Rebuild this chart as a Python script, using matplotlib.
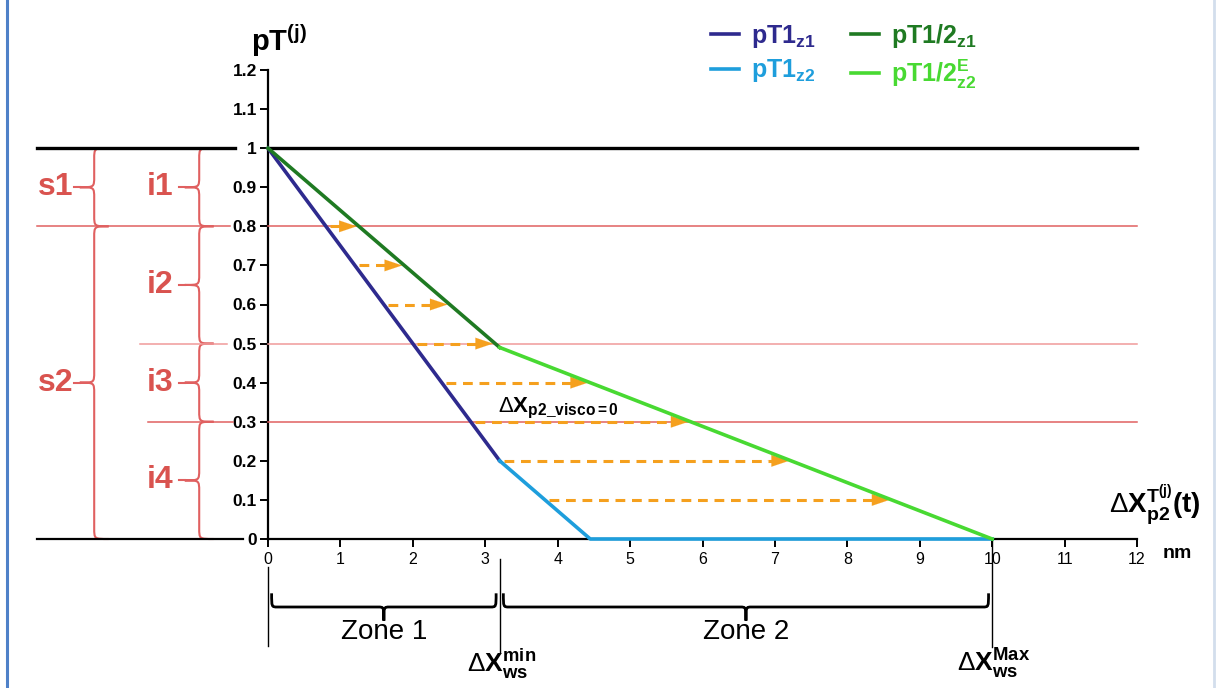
import numpy as np
import matplotlib
matplotlib.use("Agg")
import matplotlib.pyplot as plt
from matplotlib.path import Path
from matplotlib.patches import PathPatch
from matplotlib.lines import Line2D

plt.rcParams['font.family'] = ['Liberation Sans', 'DejaVu Sans']
plt.rcParams['mathtext.fontset'] = 'custom'
plt.rcParams['mathtext.rm'] = 'Liberation Sans'
plt.rcParams['mathtext.it'] = 'Liberation Sans:italic'
plt.rcParams['mathtext.bf'] = 'Liberation Sans:bold'
plt.rcParams['mathtext.sf'] = 'Liberation Sans'

# ---------------- data ----------------
x_pT1_z1 = [0.0, 3.2]
y_pT1_z1 = [1.0, 0.2]
x_pT1_z2 = [3.2, 4.45, 10.0]
y_pT1_z2 = [0.2, 0.0, 0.0]
x_half_z1 = [0.0, 3.2]
y_half_z1 = [1.0, 0.49]
x_half_z2 = [3.2, 10.0]
y_half_z2 = [0.49, 0.0]

arrow_levels = [0.8, 0.7, 0.6, 0.5, 0.4, 0.3, 0.2, 0.1]

y_ticks = [0, 0.1, 0.2, 0.3, 0.4, 0.5, 0.6, 0.7, 0.8, 0.9, 1.0, 1.1, 1.2]
y_tick_labels = ['0', '0.1', '0.2', '0.3', '0.4', '0.5', '0.6', '0.7', '0.8', '0.9', '1', '1.1', '1.2']
x_ticks = list(range(0, 13))
x_tick_labels = [str(v) for v in x_ticks]

# stage / interval brackets (top, bottom, label)
stages = [(1.0, 0.8, 's1'), (0.8, 0.0, 's2')]
intervals = [(1.0, 0.8, 'i1'), (0.8, 0.5, 'i2'), (0.5, 0.3, 'i3'), (0.3, 0.0, 'i4')]
ref_levels = [1.0, 0.8, 0.5, 0.3, 0.0]
zones = [(0.0, 3.2, 'Zone 1'), (3.2, 10.0, 'Zone 2')]
dx_ws_min = 3.2
dx_ws_max = 10.0

# ---------------- colours ----------------
C_BLUE = '#2E2A8E'
C_LBLUE = '#1E9EDC'
C_DGREEN = '#1F7A22'
C_LGREEN = '#48D932'
C_ORANGE = '#F5A01E'
C_RED = '#E06060'
C_RED_TXT = '#D9534F'

fig = plt.figure(figsize=(12.19, 6.88), dpi=100)
ax = fig.add_axes([268 / 1219, 1 - 539 / 688, (1137 - 268) / 1219, (539 - 70) / 688])
ax.set_xlim(0, 12)
ax.set_ylim(0, 1.2)
for s in ['top', 'right']:
    ax.spines[s].set_visible(False)
for s in ['left', 'bottom']:
    ax.spines[s].set_linewidth(1.6)
    ax.spines[s].set_zorder(1)

ax.set_yticks(y_ticks)
ax.set_yticklabels(y_tick_labels, fontsize=12.5, fontweight='bold')
ax.set_xticks(x_ticks)
ax.set_xticklabels(x_tick_labels, fontsize=11.5)
ax.tick_params(axis='both', direction='out', length=6, width=1.4, colors='black')
ax.tick_params(axis='x', pad=3)
ax.tick_params(axis='y', pad=2)

# horizontal reference lines
left_start = {1.0: -3.19, 0.8: -3.19, 0.5: -1.77, 0.3: -1.66, 0.0: -3.19}
left_end = {1.0: -0.45, 0.8: -0.52, 0.5: -0.57, 0.3: -0.49, 0.0: -0.35}
for lv in ref_levels:
    col = 'black' if lv in (1.0, 0.0) else (('#F09A9A') if lv == 0.5 else C_RED)
    lw = 2.4 if lv == 1.0 else (1.6 if lv == 0.0 else 1.1)
    ax.plot([left_start[lv], left_end[lv]], [lv, lv], color=col, lw=lw, clip_on=False, zorder=2)
    if lv > 0:
        ax.plot([0, 12], [lv, lv], color=col, lw=lw, clip_on=False, zorder=2)

# arrows between curves
pT1_x = np.array(x_pT1_z1 + x_pT1_z2[1:])
pT1_y = np.array(y_pT1_z1 + y_pT1_z2[1:])
half_x = np.array(x_half_z1 + x_half_z2[1:])
half_y = np.array(y_half_z1 + y_half_z2[1:])
for lv in arrow_levels:
    xs = np.interp(lv, pT1_y[:3][::-1], pT1_x[:3][::-1]) + 0.06
    xe = np.interp(lv, half_y[::-1], half_x[::-1]) - 0.03
    head = 0.3
    ax.plot([xs, xe - head * 0.6], [lv, lv], color=C_ORANGE, lw=2.2,
            dashes=(3.2, 2.2), clip_on=False, zorder=3)
    ax.annotate('', xy=(xe, lv), xytext=(xe - head, lv),
                arrowprops=dict(arrowstyle='-|>,head_length=1.25,head_width=0.42',
                                color=C_ORANGE, lw=0.1, shrinkA=0, shrinkB=0),
                zorder=3, annotation_clip=False)

# curves
l1, = ax.plot(x_pT1_z1, y_pT1_z1, color=C_BLUE, lw=2.6, clip_on=False, zorder=5)
l2, = ax.plot(x_pT1_z2, y_pT1_z2, color=C_LBLUE, lw=2.6, clip_on=False, zorder=5)
l3, = ax.plot(x_half_z1, y_half_z1, color=C_DGREEN, lw=2.6, clip_on=False, zorder=5)
l4, = ax.plot(x_half_z2, y_half_z2, color=C_LGREEN, lw=2.6, clip_on=False, zorder=5)

leg = ax.legend([l1, l2, l3, l4],
                [r'$\mathbf{pT1}_{\mathbf{z1}}$', r'$\mathbf{pT1}_{\mathbf{z2}}$',
                 r'$\mathbf{pT1/2}_{\mathbf{z1}}$', r'$\mathbf{pT1/2}_{\mathbf{z2}}^{\mathbf{E}}$'],
                ncol=2, frameon=False, fontsize=18, labelcolor='linecolor',
                loc='upper left', bbox_to_anchor=(711 / 1219, 1 - 22 / 688),
                bbox_transform=fig.transFigure, borderpad=0, borderaxespad=0,
                handlelength=1.12, handletextpad=0.48, columnspacing=1.4, labelspacing=0.3)


# braces
def vbrace(xv, yt, yb, w_end, w_tip, r, color, lw):
    ym = (yt + yb) / 2
    verts = [(xv + w_end, yt), (xv, yt), (xv, yt), (xv, yt - r),
             (xv, ym + r),
             (xv, ym), (xv, ym), (xv - w_tip, ym),
             (xv, ym), (xv, ym), (xv, ym - r),
             (xv, yb + r),
             (xv, yb), (xv, yb), (xv + w_end, yb)]
    codes = [Path.MOVETO, Path.CURVE4, Path.CURVE4, Path.CURVE4,
             Path.LINETO,
             Path.CURVE4, Path.CURVE4, Path.CURVE4,
             Path.CURVE4, Path.CURVE4, Path.CURVE4,
             Path.LINETO,
             Path.CURVE4, Path.CURVE4, Path.CURVE4]
    p = PathPatch(Path(verts, codes), fill=False, edgecolor=color, lw=lw, clip_on=False)
    ax.add_patch(p)
    return ym


def hbrace(xl, xr, yh, h_end, h_tip, rx, color, lw):
    xm = (xl + xr) / 2
    verts = [(xl, yh + h_end), (xl, yh), (xl, yh), (xl + rx, yh),
             (xm - rx, yh),
             (xm, yh), (xm, yh), (xm, yh - h_tip),
             (xm, yh), (xm, yh), (xm + rx, yh),
             (xr - rx, yh),
             (xr, yh), (xr, yh), (xr, yh + h_end)]
    codes = [Path.MOVETO, Path.CURVE4, Path.CURVE4, Path.CURVE4,
             Path.LINETO,
             Path.CURVE4, Path.CURVE4, Path.CURVE4,
             Path.CURVE4, Path.CURVE4, Path.CURVE4,
             Path.LINETO,
             Path.CURVE4, Path.CURVE4, Path.CURVE4]
    p = PathPatch(Path(verts, codes), fill=False, edgecolor=color, lw=lw, clip_on=False)
    ax.add_patch(p)
    return xm


for yt, yb, lab in stages:
    ym = vbrace(-2.40, yt, yb, 0.2, 0.2, 0.028, C_RED, 1.5)
    ax.plot([-2.68, -2.60], [ym, ym], color=C_RED, lw=1.5, clip_on=False)
    ax.text(-2.93, ym, lab, color=C_RED_TXT, fontsize=23, fontweight='bold',
            ha='center', va='center')
for yt, yb, lab in intervals:
    ym = vbrace(-0.95, yt, yb, 0.2, 0.2, 0.028, C_RED, 1.5)
    ax.plot([-1.23, -1.15], [ym, ym], color=C_RED, lw=1.5, clip_on=False)
    ax.text(-1.49, ym, lab, color=C_RED_TXT, fontsize=23, fontweight='bold',
            ha='center', va='center')

# zones below axis
for xl, xr, lab in zones:
    xm = hbrace(xl + 0.05, xr - 0.05, -0.174, 0.035, 0.035, 0.08, 'black', 2.0)
    ax.text(xm, -0.238, lab, fontsize=20, ha='center', va='center')
ax.plot([0, 0], [-0.072, -0.274], color='black', lw=1.0, clip_on=False)
ax.plot([dx_ws_min, dx_ws_min], [-0.05, -0.29], color='black', lw=1.0, clip_on=False)
ax.plot([dx_ws_max, dx_ws_max], [0.0, -0.276], color='black', lw=1.0, clip_on=False)
ax.text(dx_ws_min + 0.02, -0.32, r'$\Delta\mathbf{X}_{\mathbf{ws}}^{\mathbf{min}}$',
        fontsize=19, ha='center', va='center')
ax.text(dx_ws_max + 0.02, -0.32, r'$\Delta\mathbf{X}_{\mathbf{ws}}^{\mathbf{Max}}$',
        fontsize=19, ha='center', va='center')

# other labels
ax.text(-0.24, 1.275, r'$\mathbf{pT}^{\mathbf{(j)}}$', fontsize=21, ha='left', va='center')
ax.text(3.18, 0.335, r'$\Delta\mathbf{X}_{\mathbf{p2\_visco=0}}$', fontsize=16,
        ha='left', va='center')
ax.text(12.25, 0.085, r'$\Delta\mathbf{X}_{\mathbf{p2}}^{\mathbf{T}^{\mathbf{(j)}}}\mathbf{(t)}$',
        fontsize=20, ha='center', va='center')
ax.text(12.55, -0.036, 'nm', fontsize=14, fontweight='bold', ha='center', va='center')

# frame edges
fig.add_artist(Line2D([7 / 1219, 7 / 1219], [0, 1], color='#4F81C8', lw=2.2,
                      transform=fig.transFigure))
fig.add_artist(Line2D([1214 / 1219, 1214 / 1219], [0, 1], color='#D3DEEC', lw=2.0,
                      transform=fig.transFigure))

fig.savefig('out.png', dpi=100)
